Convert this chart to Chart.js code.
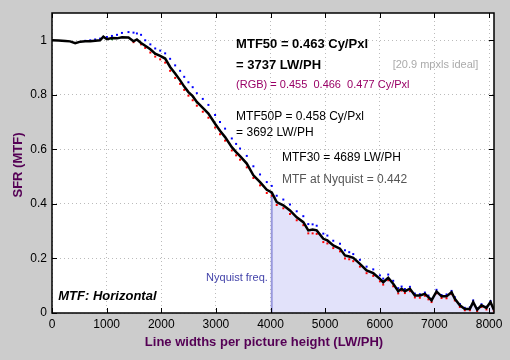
<!DOCTYPE html>
<html><head><meta charset="utf-8">
<script src="https://cdn.jsdelivr.net/npm/chart.js@4.4.0/dist/chart.umd.min.js"></script>
<style>html,body{margin:0;padding:0;background:#cccccc;}canvas{display:block;}</style>
</head><body>
<canvas id="c" width="510" height="360"></canvas>
<script>
// Spatial frequency (LW/PH)
const freqLWPH = [
  0,120,245,330,425,520,610,700,790,880,
  940,1005,1097,1190,1280,1400,1492,1554,1630,1706,
  1800,1889,1980,2071,2162,2254,2345,2420,2497,2575,
  2651,2760,2863,2985,3075,3168,3291,3370,3442,3565,
  3686,3808,3931,4022,4113,4234,4356,4479,4600,4691,
  4770,4845,4966,5040,5148,5271,5362,5440,5514,5636,
  5758,5880,6002,6062,6154,6245,6337,6399,6459,6551,
  6642,6733,6825,6890,6947,7038,7130,7221,7313,7373,
  7465,7556,7648,7709,7782,7861,7952,8026,8087
];
// Luminance MTF (black)
const mtfLum = [
  1.0,0.999,0.997,0.996,0.989,0.995,0.996,0.996,0.998,1.0,
  1.013,1.004,1.008,1.007,1.011,1.01,0.996,1.003,0.99,0.98,
  0.967,0.951,0.943,0.933,0.902,0.878,0.853,0.83,0.81,0.795,
  0.774,0.752,0.731,0.694,0.668,0.645,0.608,0.59,0.575,0.548,
  0.505,0.48,0.452,0.442,0.407,0.395,0.376,0.351,0.333,0.303,
  0.306,0.303,0.272,0.266,0.248,0.236,0.211,0.207,0.202,0.18,
  0.156,0.146,0.125,0.113,0.129,0.107,0.08,0.089,0.08,0.089,
  0.064,0.064,0.07,0.058,0.046,0.079,0.061,0.061,0.076,0.052,
  0.028,0.015,0.015,0.04,0.012,0.028,0.019,0.04,0.012
];
// Red channel
const mtfRed = [
  null,null,null,null,null,null,null,null,null,null,
  null,null,null,null,null,null,0.993,null,0.985,0.972,
  0.955,0.94,0.93,0.918,0.888,0.862,0.84,0.818,0.797,0.78,
  0.76,0.738,0.716,0.68,0.655,0.632,0.596,0.578,0.562,0.534,
  0.495,0.468,0.44,0.43,0.396,0.384,0.363,0.34,0.322,0.292,
  0.292,0.29,0.26,0.255,0.238,0.226,0.2,0.197,0.19,0.17,
  0.146,0.136,0.116,0.104,0.12,0.098,0.072,0.082,0.073,0.08,
  0.057,0.056,0.063,0.05,0.04,0.072,0.055,0.054,0.069,0.046,
  0.022,0.01,0.01,0.034,0.007,0.022,0.013,0.034,0.008
];
// Green channel (mostly hidden under luminance)
const mtfGreen = [
  null,null,null,null,null,null,null,null,null,null,
  null,null,1.004,null,null,null,null,null,null,null,
  null,0.95,null,null,null,null,null,null,null,null,
  0.772,null,null,null,null,null,null,null,null,null,
  null,null,null,null,null,null,null,null,null,null,
  null,null,null,null,null,null,null,null,null,null,
  null,null,null,0.117,null,null,null,null,null,null,
  null,null,null,null,null,null,null,null,null,null,
  null,null,null,null,null,null,null,null,null
];
// Blue channel
const mtfBlue = [
  null,null,null,null,null,null,0.998,1.0,1.003,1.006,
  1.012,1.012,1.016,1.02,1.027,1.03,1.028,1.025,1.02,1.0,
  0.985,0.97,0.962,0.952,0.932,0.908,0.888,0.866,0.846,0.828,
  0.806,0.785,0.763,0.726,0.7,0.676,0.64,0.62,0.603,0.576,
  0.538,0.508,0.48,0.466,0.43,0.416,0.398,0.373,0.355,0.326,
  0.325,0.32,0.291,0.284,0.265,0.254,0.23,0.223,0.216,0.195,
  0.17,0.16,0.138,0.126,0.141,0.118,0.091,0.097,0.088,0.096,
  0.071,0.069,0.075,0.064,0.052,0.085,0.066,0.068,0.081,0.058,
  0.033,0.019,0.021,0.046,0.017,0.032,0.023,0.044,0.015
];
const xTicks = [0,1000,2000,3000,4000,5000,6000,7000,8000];
const xTickLabels = ['0','1000','2000','3000','4000','5000','6000','7000','8000'];
const yTicks = [0,0.2,0.4,0.6,0.8,1];
const yTickLabels = ['0','0.2','0.4','0.6','0.8','1'];
const xMax = 8090, yMax = 1.1;
const nyquistLWPH = 4022;
const mtfAtNyquist = 0.442;

const notes = [
  {t:'MTF50 = 0.463 Cy/Pxl', x:3370, y:0.972, f:'bold 13px', c:'#000000'},
  {t:'= 3737 LW/PH', x:3370, y:0.895, f:'bold 13px', c:'#000000'},
  {t:'[20.9 mpxls ideal]', x:6235, y:0.898, f:'11px', c:'#aaaaaa'},
  {t:'(RGB) = 0.455  0.466  0.477 Cy/Pxl', x:3370, y:0.826, f:'11px', c:'#990066'},
  {t:'MTF50P = 0.458 Cy/Pxl', x:3370, y:0.709, f:'12px', c:'#000000'},
  {t:'= 3692 LW/PH', x:3370, y:0.648, f:'12px', c:'#000000'},
  {t:'MTF30 = 4689 LW/PH', x:4210, y:0.556, f:'12px', c:'#000000'},
  {t:'MTF at Nyquist = 0.442', x:4210, y:0.477, f:'12px', c:'#555555'},
  {t:'Nyquist freq.', x:2820, y:0.116, f:'11px', c:'#4444aa'},
  {t:'MTF: Horizontal', x:115, y:0.046, f:'italic bold 13px', c:'#000000'}
];
const FF = '"Liberation Sans", Arial, sans-serif';

const pts = (ys) => freqLWPH.map((x,i)=>({x:x, y:ys[i]})).filter(p=>p.y!==null);
const fillPts = freqLWPH.map((x,i)=>({x:x,y:mtfLum[i]})).filter(p=>p.x>=nyquistLWPH);

const deco = {
  id:'deco',
  beforeDraw(chart){
    const {ctx, chartArea:a} = chart;
    ctx.save();
    ctx.fillStyle = '#cccccc';
    ctx.fillRect(0,0,chart.width,chart.height);
    ctx.fillStyle = '#ffffff';
    ctx.fillRect(a.left,a.top,a.right-a.left,a.bottom-a.top);
    ctx.restore();
  },
  afterDraw(chart){
    const {ctx, chartArea:a, scales:{x,y}} = chart;
    ctx.save();
    // inward ticks
    ctx.strokeStyle = '#000'; ctx.lineWidth = 1;
    ctx.beginPath();
    xTicks.forEach(v=>{
      const px = Math.round(x.getPixelForValue(v))+0.5;
      ctx.moveTo(px,a.bottom); ctx.lineTo(px,a.bottom-5);
      ctx.moveTo(px,a.top); ctx.lineTo(px,a.top+5);
    });
    yTicks.forEach(v=>{
      const py = Math.round(y.getPixelForValue(v))+0.5;
      ctx.moveTo(a.left,py); ctx.lineTo(a.left+5,py);
      ctx.moveTo(a.right,py); ctx.lineTo(a.right-5,py);
    });
    ctx.stroke();
    // frame
    ctx.lineWidth = 1.5;
    ctx.strokeRect(a.left,a.top,a.right-a.left,a.bottom-a.top);
    // annotations
    ctx.textBaseline = 'alphabetic'; ctx.textAlign = 'left';
    notes.forEach(n=>{
      ctx.font = n.f + ' ' + FF;
      ctx.fillStyle = n.c;
      ctx.fillText(n.t, x.getPixelForValue(n.x), y.getPixelForValue(n.y));
    });
    // axis titles
    ctx.fillStyle = '#550055';
    ctx.font = 'bold 13px ' + FF;
    ctx.textAlign = 'center';
    ctx.fillText('Line widths per picture height (LW/PH)', 264, 346);
    ctx.translate(22,165);
    ctx.rotate(-Math.PI/2);
    ctx.fillText('SFR (MTF)', 0, 0);
    ctx.restore();
  }
};

new Chart(document.getElementById('c'), {
  type:'scatter',
  data:{datasets:[
    {label:'Luminance', data:pts(mtfLum), showLine:true, borderColor:'#000000', borderWidth:2.5, pointRadius:0, tension:0, fill:false},
    {label:'G', data:pts(mtfGreen), showLine:false, pointStyle:'rect', pointRadius:1.4, borderWidth:0, backgroundColor:'#00aa00'},
    {label:'R', data:pts(mtfRed), showLine:false, pointStyle:'rect', pointRadius:1.4, borderWidth:0, backgroundColor:'#ff0000'},
    {label:'B', data:pts(mtfBlue), showLine:false, pointStyle:'rect', pointRadius:1.4, borderWidth:0, backgroundColor:'#0000ff'},
    {label:'Nyquist', data:[{x:nyquistLWPH,y:0},{x:nyquistLWPH,y:mtfAtNyquist}], showLine:true, borderColor:'#9999dd', borderWidth:2, pointRadius:0, fill:false},
    {label:'Fill', data:fillPts, showLine:true, borderWidth:0, borderColor:'rgba(0,0,0,0)', pointRadius:0, backgroundColor:'#e2e2fa', fill:'origin', tension:0}
  ]},
  options:{
    responsive:false, animation:false, devicePixelRatio:1,
    layout:{padding:{left:0,top:13,right:16,bottom:0}},
    plugins:{legend:{display:false}, tooltip:{enabled:false}},
    scales:{
      x:{type:'linear', min:0, max:xMax,
        afterBuildTicks:s=>{s.ticks = xTicks.map(v=>({value:v}));},
        afterFit:s=>{s.height = 47;},
        ticks:{autoSkip:false, maxRotation:0, padding:4, color:'#000', font:{family:FF,size:12}, callback:(v,i)=>xTickLabels[i]},
        grid:{drawTicks:false, color:'#bbbbbb', lineWidth:1},
        border:{display:false, dash:[1,3]}
      },
      y:{type:'linear', min:0, max:yMax,
        afterBuildTicks:s=>{s.ticks = yTicks.map(v=>({value:v}));},
        afterFit:s=>{s.width = 52;},
        ticks:{autoSkip:false, padding:5, color:'#000', font:{family:FF,size:12}, callback:(v,i)=>yTickLabels[i]},
        grid:{drawTicks:false, color:'#bbbbbb', lineWidth:1},
        border:{display:false, dash:[1,3]}
      }
    }
  },
  plugins:[deco]
});
</script>
</body></html>
